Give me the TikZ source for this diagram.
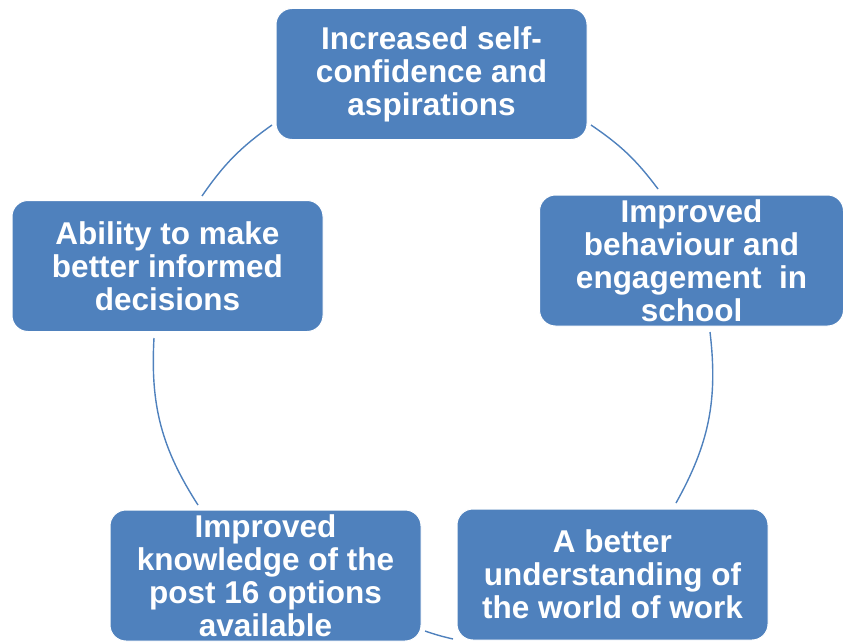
\documentclass[tikz,border=0pt]{standalone}
\usepackage{fontspec}
\setmainfont{Liberation Sans}
\definecolor{stageblue}{RGB}{79,129,189}
\begin{document}
\begin{tikzpicture}[x=1pt,y=-1pt,
  stage/.style={draw=white,line width=1pt,fill=stageblue,rounded corners=16pt,
    minimum width=311pt,minimum height=131pt,inner sep=0pt,text=white,align=center,
    font=\fontsize{31.5}{33}\selectfont\bfseries},
  link/.style={draw=stageblue,line width=1.4pt}]
\useasboundingbox (0,0) rectangle (843,642);
\node[stage] (conf) at (431.5,74) {Increased self-\\confidence and\\aspirations};
\node[stage,minimum width=304pt] (behav) at (691.5,260.5) {Improved\\behaviour and\\engagement~ in\\school};
\node[stage] (world) at (612.5,574.5) {A better\\understanding of\\the world of work};
\node[stage] (know) at (265.5,575.5) {Improved\\knowledge of the\\post 16 options\\available};
\node[stage] (decide) at (167.5,266) {Ability to make\\better informed\\decisions};
\coordinate (c1) at (591,125); \coordinate (b1) at (658,189);
\coordinate (b2) at (710,332); \coordinate (w1) at (676,503);
\coordinate (w2) at (453,639); \coordinate (k1) at (425,631);
\coordinate (k2) at (198,505); \coordinate (d1) at (154,338);
\coordinate (d2) at (202,196); \coordinate (c2) at (272,125);
\draw[link] (c1) to[bend left=9.5] (b1);
\draw[link] (b2) to[bend left=18] (w1);
\draw[link] (w2) to[bend left=3] (k1);
\draw[link] (k2) to[bend left=18] (d1);
\draw[link] (d2) to[bend left=10] (c2);
\end{tikzpicture}
\end{document}
